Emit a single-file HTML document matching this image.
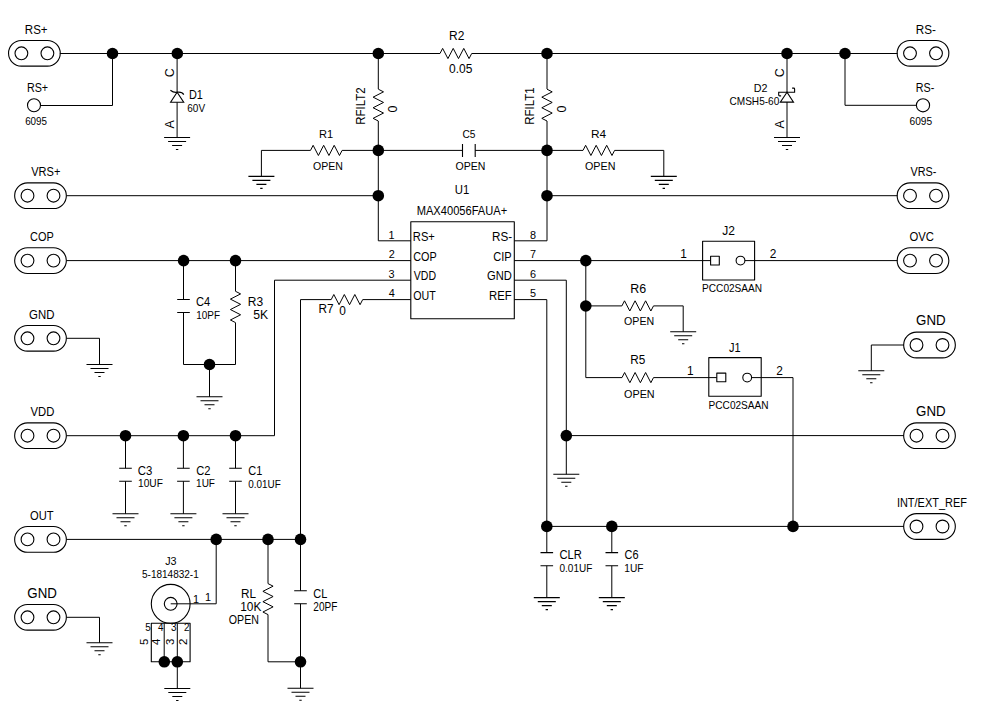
<!DOCTYPE html>
<html><head><meta charset="utf-8"><style>
html,body{margin:0;padding:0;background:#fff;overflow:hidden}
svg{display:block}
text{font-family:"Liberation Sans",sans-serif;fill:#000}
</style></head><body>
<svg width="983" height="725" viewBox="0 0 983 725">
<rect width="983" height="725" fill="#fff"/>
<g>
<path d="M21.4,40.449999999999996 H47.4 A12.85,12.85 0 0 1 47.4,66.14999999999999 H21.4 A12.85,12.85 0 0 1 21.4,40.449999999999996 Z" fill="none" stroke="#000" stroke-width="1.1"/>
<circle cx="21.4" cy="53.3" r="6.4" fill="none" stroke="#000" stroke-width="1.1"/>
<circle cx="47.4" cy="53.3" r="6.4" fill="none" stroke="#000" stroke-width="1.1"/>
<path d="M59.85,53.50 L440.00,53.50" fill="none" stroke="#000" stroke-width="1.0"/>
<circle cx="112.5" cy="53.5" r="5.8" fill="#000"/>
<path d="M112.50,53.50 L112.50,105.50 L40.60,105.50" fill="none" stroke="#000" stroke-width="1.0"/>
<circle cx="34" cy="105.3" r="6.5" fill="none" stroke="#000" stroke-width="1.1"/>
<circle cx="177.3" cy="53.5" r="5.8" fill="#000"/>
<path d="M177.10,53.50 L177.10,137.50" fill="none" stroke="#000" stroke-width="1.0"/>
<path d="M177.1,92.3 L170.6,102.2 H183.7 Z" fill="#fff" stroke="#000" stroke-width="1.1"/>
<path d="M170.4,90.3 Q173.5,92.8 177.1,92.3 Q182,91.6 183.8,94.6" fill="none" stroke="#000" stroke-width="1.1"/>
<path d="M164.1,137.5 H190.1 M168.1,141.5 H186.1 M172.1,145.5 H182.1 M175.9,149.5 H178.29999999999998" stroke="#000" stroke-width="1.1" fill="none"/>
<circle cx="378.3" cy="53.5" r="5.8" fill="#000"/>
<path d="M378.30,53.50 L378.30,89.00" fill="none" stroke="#000" stroke-width="1.0"/>
<path d="M378.30,89.20 L383.50,91.85 L373.10,97.15 L383.50,102.45 L373.10,107.75 L383.50,113.05 L373.10,118.35 L378.30,121.00" fill="none" stroke="#000" stroke-width="1.0"/>
<path d="M378.30,121.00 L378.30,240.80 L410.80,240.80" fill="none" stroke="#000" stroke-width="1.0"/>
<circle cx="378.3" cy="150.4" r="5.8" fill="#000"/>
<circle cx="378.3" cy="195.7" r="5.8" fill="#000"/>
<path d="M440.00,53.50 L442.64,48.40 L447.93,58.60 L453.21,48.40 L458.49,58.60 L463.77,48.40 L469.06,58.60 L471.70,53.50" fill="none" stroke="#000" stroke-width="1.0"/>
<path d="M471.70,53.50 L897.50,53.50" fill="none" stroke="#000" stroke-width="1.0"/>
<circle cx="547" cy="53.5" r="5.8" fill="#000"/>
<path d="M547.00,53.50 L547.00,89.00" fill="none" stroke="#000" stroke-width="1.0"/>
<path d="M547.00,89.20 L552.20,91.85 L541.80,97.15 L552.20,102.45 L541.80,107.75 L552.20,113.05 L541.80,118.35 L547.00,121.00" fill="none" stroke="#000" stroke-width="1.0"/>
<path d="M547.00,121.00 L547.00,240.80 L514.30,240.80" fill="none" stroke="#000" stroke-width="1.0"/>
<circle cx="547" cy="150.4" r="5.8" fill="#000"/>
<circle cx="547" cy="195.7" r="5.8" fill="#000"/>
<circle cx="787" cy="53.5" r="5.8" fill="#000"/>
<path d="M787.00,53.50 L787.00,137.50" fill="none" stroke="#000" stroke-width="1.0"/>
<path d="M787,92.2 L780.3,102.1 H793.5 Z" fill="#fff" stroke="#000" stroke-width="1.1"/>
<path d="M781.1,95.9 H779.6 Q778.7,95.9 778.7,95 V92.2 H794.6 V89 Q794.6,88.1 793.7,88.1 H792.1" fill="none" stroke="#000" stroke-width="1.1"/>
<path d="M774,137.5 H800 M778,141.5 H796 M782,145.5 H792 M785.8,149.5 H788.2" stroke="#000" stroke-width="1.1" fill="none"/>
<circle cx="845" cy="53.5" r="5.8" fill="#000"/>
<path d="M845.00,53.50 L845.00,105.30 L916.20,105.30" fill="none" stroke="#000" stroke-width="1.0"/>
<circle cx="923" cy="105.3" r="6.6" fill="none" stroke="#000" stroke-width="1.1"/>
<path d="M910,40.449999999999996 H936 A12.85,12.85 0 0 1 936,66.14999999999999 H910 A12.85,12.85 0 0 1 910,40.449999999999996 Z" fill="none" stroke="#000" stroke-width="1.1"/>
<circle cx="910" cy="53.3" r="6.4" fill="none" stroke="#000" stroke-width="1.1"/>
<circle cx="936" cy="53.3" r="6.4" fill="none" stroke="#000" stroke-width="1.1"/>
<path d="M378.30,150.40 L342.10,150.40" fill="none" stroke="#000" stroke-width="1.0"/>
<path d="M310.50,150.40 L313.13,145.30 L318.40,155.50 L323.67,145.30 L328.93,155.50 L334.20,145.30 L339.47,155.50 L342.10,150.40" fill="none" stroke="#000" stroke-width="1.0"/>
<path d="M310.50,150.40 L261.40,150.40 L261.40,176.40" fill="none" stroke="#000" stroke-width="1.0"/>
<path d="M248.39999999999998,176.4 H274.4 M252.39999999999998,180.4 H270.4 M256.4,184.4 H266.4 M260.2,188.4 H262.59999999999997" stroke="#000" stroke-width="1.1" fill="none"/>
<path d="M378.30,150.40 L462.50,150.40" fill="none" stroke="#000" stroke-width="1.0"/>
<path d="M475.20,150.40 L547.00,150.40" fill="none" stroke="#000" stroke-width="1.0"/>
<path d="M462.5,143.9 V156.9 M475.2,143.9 V156.9" stroke="#000" stroke-width="1.1" fill="none"/>
<path d="M547.00,150.40 L583.00,150.40" fill="none" stroke="#000" stroke-width="1.0"/>
<path d="M583.00,150.40 L585.63,145.30 L590.90,155.50 L596.17,145.30 L601.43,155.50 L606.70,145.30 L611.97,155.50 L614.60,150.40" fill="none" stroke="#000" stroke-width="1.0"/>
<path d="M614.60,150.40 L663.80,150.40 L663.80,176.40" fill="none" stroke="#000" stroke-width="1.0"/>
<path d="M650.8,176.4 H676.8 M654.8,180.4 H672.8 M658.8,184.4 H668.8 M662.5999999999999,188.4 H665.0" stroke="#000" stroke-width="1.1" fill="none"/>
<path d="M27.5,182.85 H53.5 A12.85,12.85 0 0 1 53.5,208.54999999999998 H27.5 A12.85,12.85 0 0 1 27.5,182.85 Z" fill="none" stroke="#000" stroke-width="1.1"/>
<circle cx="27.5" cy="195.7" r="6.4" fill="none" stroke="#000" stroke-width="1.1"/>
<circle cx="53.5" cy="195.7" r="6.4" fill="none" stroke="#000" stroke-width="1.1"/>
<path d="M66.60,195.70 L378.30,195.70" fill="none" stroke="#000" stroke-width="1.0"/>
<path d="M910,182.85 H936 A12.85,12.85 0 0 1 936,208.54999999999998 H910 A12.85,12.85 0 0 1 910,182.85 Z" fill="none" stroke="#000" stroke-width="1.1"/>
<circle cx="910" cy="195.7" r="6.4" fill="none" stroke="#000" stroke-width="1.1"/>
<circle cx="936" cy="195.7" r="6.4" fill="none" stroke="#000" stroke-width="1.1"/>
<path d="M547.00,195.70 L897.50,195.70" fill="none" stroke="#000" stroke-width="1.0"/>
<rect x="410.8" y="221.8" width="103.49999999999994" height="97.0" fill="none" stroke="#000" stroke-width="1.1" stroke-linejoin="round"/>
<path d="M27.5,247.75000000000003 H53.5 A12.85,12.85 0 0 1 53.5,273.45000000000005 H27.5 A12.85,12.85 0 0 1 27.5,247.75000000000003 Z" fill="none" stroke="#000" stroke-width="1.1"/>
<circle cx="27.5" cy="260.6" r="6.4" fill="none" stroke="#000" stroke-width="1.1"/>
<circle cx="53.5" cy="260.6" r="6.4" fill="none" stroke="#000" stroke-width="1.1"/>
<path d="M66.60,260.60 L410.80,260.60" fill="none" stroke="#000" stroke-width="1.0"/>
<circle cx="183.6" cy="260.6" r="5.8" fill="#000"/>
<circle cx="235.5" cy="260.6" r="5.8" fill="#000"/>
<path d="M183.50,260.60 L183.50,299.50" fill="none" stroke="#000" stroke-width="1.0"/>
<path d="M177.2,299.5 H189.8 M177.2,312.5 H189.8" stroke="#000" stroke-width="1.1" fill="none"/>
<path d="M183.50,312.50 L183.50,364.50 L235.50,364.50 L235.50,322.70" fill="none" stroke="#000" stroke-width="1.0"/>
<path d="M235.50,260.60 L235.50,291.30" fill="none" stroke="#000" stroke-width="1.0"/>
<path d="M235.50,291.30 L240.60,293.91 L230.40,299.12 L240.60,304.34 L230.40,309.56 L240.60,314.78 L230.40,319.99 L235.50,322.60" fill="none" stroke="#000" stroke-width="1.0"/>
<circle cx="209.5" cy="364.5" r="5.8" fill="#000"/>
<path d="M209.50,364.50 L209.50,396.80" fill="none" stroke="#000" stroke-width="1.0"/>
<path d="M196.5,396.8 H222.5 M200.5,400.8 H218.5 M204.5,404.8 H214.5 M208.3,408.8 H210.7" stroke="#000" stroke-width="1.1" fill="none"/>
<path d="M27.5,325.45 H53.5 A12.85,12.85 0 0 1 53.5,351.15000000000003 H27.5 A12.85,12.85 0 0 1 27.5,325.45 Z" fill="none" stroke="#000" stroke-width="1.1"/>
<circle cx="27.5" cy="338.3" r="6.4" fill="none" stroke="#000" stroke-width="1.1"/>
<circle cx="53.5" cy="338.3" r="6.4" fill="none" stroke="#000" stroke-width="1.1"/>
<path d="M66.60,338.30 L99.50,338.30 L99.50,364.50" fill="none" stroke="#000" stroke-width="1.0"/>
<path d="M86.5,364.5 H112.5 M90.5,368.5 H108.5 M94.5,372.5 H104.5 M98.3,376.5 H100.7" stroke="#000" stroke-width="1.1" fill="none"/>
<path d="M27.5,422.84999999999997 H53.5 A12.85,12.85 0 0 1 53.5,448.55 H27.5 A12.85,12.85 0 0 1 27.5,422.84999999999997 Z" fill="none" stroke="#000" stroke-width="1.1"/>
<circle cx="27.5" cy="435.7" r="6.4" fill="none" stroke="#000" stroke-width="1.1"/>
<circle cx="53.5" cy="435.7" r="6.4" fill="none" stroke="#000" stroke-width="1.1"/>
<path d="M66.60,435.70 L274.50,435.70 L274.50,280.20 L410.80,280.20" fill="none" stroke="#000" stroke-width="1.0"/>
<circle cx="125.5" cy="435.7" r="5.8" fill="#000"/>
<path d="M125.50,435.70 L125.50,468.20" fill="none" stroke="#000" stroke-width="1.0"/>
<path d="M119.2,468.2 H131.8 M119.2,481.3 H131.8" stroke="#000" stroke-width="1.1" fill="none"/>
<path d="M125.50,481.30 L125.50,513.80" fill="none" stroke="#000" stroke-width="1.0"/>
<path d="M112.5,513.8 H138.5 M116.5,517.8 H134.5 M120.5,521.8 H130.5 M124.3,525.8 H126.7" stroke="#000" stroke-width="1.1" fill="none"/>
<circle cx="183.4" cy="435.7" r="5.8" fill="#000"/>
<path d="M183.40,435.70 L183.40,468.20" fill="none" stroke="#000" stroke-width="1.0"/>
<path d="M177.1,468.2 H189.70000000000002 M177.1,481.3 H189.70000000000002" stroke="#000" stroke-width="1.1" fill="none"/>
<path d="M183.40,481.30 L183.40,513.80" fill="none" stroke="#000" stroke-width="1.0"/>
<path d="M170.4,513.8 H196.4 M174.4,517.8 H192.4 M178.4,521.8 H188.4 M182.20000000000002,525.8 H184.6" stroke="#000" stroke-width="1.1" fill="none"/>
<circle cx="235.5" cy="435.7" r="5.8" fill="#000"/>
<path d="M235.50,435.70 L235.50,468.20" fill="none" stroke="#000" stroke-width="1.0"/>
<path d="M229.2,468.2 H241.8 M229.2,481.3 H241.8" stroke="#000" stroke-width="1.1" fill="none"/>
<path d="M235.50,481.30 L235.50,513.80" fill="none" stroke="#000" stroke-width="1.0"/>
<path d="M222.5,513.8 H248.5 M226.5,517.8 H244.5 M230.5,521.8 H240.5 M234.3,525.8 H236.7" stroke="#000" stroke-width="1.1" fill="none"/>
<path d="M27.5,526.55 H53.5 A12.85,12.85 0 0 1 53.5,552.25 H27.5 A12.85,12.85 0 0 1 27.5,526.55 Z" fill="none" stroke="#000" stroke-width="1.1"/>
<circle cx="27.5" cy="539.4" r="6.4" fill="none" stroke="#000" stroke-width="1.1"/>
<circle cx="53.5" cy="539.4" r="6.4" fill="none" stroke="#000" stroke-width="1.1"/>
<path d="M66.60,539.40 L300.50,539.40" fill="none" stroke="#000" stroke-width="1.0"/>
<circle cx="216.2" cy="539.4" r="5.8" fill="#000"/>
<circle cx="268" cy="539.4" r="5.8" fill="#000"/>
<circle cx="300.5" cy="539.4" r="5.8" fill="#000"/>
<path d="M300.50,539.40 L300.50,299.60 L331.20,299.60" fill="none" stroke="#000" stroke-width="1.0"/>
<path d="M331.20,299.60 L333.82,294.50 L339.07,304.70 L344.32,294.50 L349.57,304.70 L354.82,294.50 L360.07,304.70 L362.70,299.60" fill="none" stroke="#000" stroke-width="1.0"/>
<path d="M362.70,299.60 L410.80,299.60" fill="none" stroke="#000" stroke-width="1.0"/>
<path d="M216.20,539.40 L216.20,603.80 L170.70,603.80" fill="none" stroke="#000" stroke-width="1.0"/>
<circle cx="170.7" cy="603.8" r="19.4" fill="none" stroke="#000" stroke-width="1.1"/>
<circle cx="170.7" cy="603.8" r="6.4" fill="none" stroke="#000" stroke-width="1.1"/>
<path d="M268.00,539.40 L268.00,583.60" fill="none" stroke="#000" stroke-width="1.0"/>
<path d="M268.00,583.60 L273.10,586.18 L262.90,591.35 L273.10,596.52 L262.90,601.68 L273.10,606.85 L262.90,612.02 L268.00,614.60" fill="none" stroke="#000" stroke-width="1.0"/>
<path d="M268.00,614.60 L268.00,661.80 L300.50,661.80" fill="none" stroke="#000" stroke-width="1.0"/>
<path d="M300.50,539.40 L300.50,590.80" fill="none" stroke="#000" stroke-width="1.0"/>
<path d="M294.2,590.8 H306.8 M294.2,603.8 H306.8" stroke="#000" stroke-width="1.1" fill="none"/>
<path d="M300.50,603.80 L300.50,688.30" fill="none" stroke="#000" stroke-width="1.0"/>
<circle cx="300.5" cy="661.8" r="5.8" fill="#000"/>
<path d="M287.5,688.3 H313.5 M291.5,692.3 H309.5 M295.5,696.3 H305.5 M299.3,700.3 H301.7" stroke="#000" stroke-width="1.1" fill="none"/>
<rect x="151.3" y="623.3" width="38.79999999999998" height="38.5" fill="none" stroke="#000" stroke-width="1.1" stroke-linejoin="round"/>
<path d="M164.20,623.30 L164.20,661.80" fill="none" stroke="#000" stroke-width="1.0"/>
<path d="M177.30,623.30 L177.30,661.80" fill="none" stroke="#000" stroke-width="1.0"/>
<circle cx="164.3" cy="661.8" r="5.8" fill="#000"/>
<circle cx="177.3" cy="661.8" r="5.8" fill="#000"/>
<path d="M177.30,661.80 L177.30,688.50" fill="none" stroke="#000" stroke-width="1.0"/>
<path d="M164.3,688.5 H190.3 M168.3,692.5 H186.3 M172.3,696.5 H182.3 M176.10000000000002,700.5 H178.5" stroke="#000" stroke-width="1.1" fill="none"/>
<path d="M27.5,604.4499999999999 H53.5 A12.85,12.85 0 0 1 53.5,630.15 H27.5 A12.85,12.85 0 0 1 27.5,604.4499999999999 Z" fill="none" stroke="#000" stroke-width="1.1"/>
<circle cx="27.5" cy="617.3" r="6.4" fill="none" stroke="#000" stroke-width="1.1"/>
<circle cx="53.5" cy="617.3" r="6.4" fill="none" stroke="#000" stroke-width="1.1"/>
<path d="M66.60,617.30 L99.50,617.30 L99.50,642.80" fill="none" stroke="#000" stroke-width="1.0"/>
<path d="M86.5,642.8 H112.5 M90.5,646.8 H108.5 M94.5,650.8 H104.5 M98.3,654.8 H100.7" stroke="#000" stroke-width="1.1" fill="none"/>
<path d="M514.30,260.60 L710.60,260.60" fill="none" stroke="#000" stroke-width="1.0"/>
<circle cx="585.8" cy="260.6" r="5.8" fill="#000"/>
<path d="M585.80,260.60 L585.80,377.60 L622.00,377.60" fill="none" stroke="#000" stroke-width="1.0"/>
<circle cx="585.8" cy="306" r="5.8" fill="#000"/>
<path d="M585.80,305.90 L621.90,305.90" fill="none" stroke="#000" stroke-width="1.0"/>
<path d="M621.90,305.90 L624.53,300.80 L629.80,311.00 L635.07,300.80 L640.33,311.00 L645.60,300.80 L650.87,311.00 L653.50,305.90" fill="none" stroke="#000" stroke-width="1.0"/>
<path d="M653.50,305.90 L683.20,305.90 L683.20,331.80" fill="none" stroke="#000" stroke-width="1.0"/>
<path d="M670.2,331.8 H696.2 M674.2,335.8 H692.2 M678.2,339.8 H688.2 M682.0,343.8 H684.4000000000001" stroke="#000" stroke-width="1.1" fill="none"/>
<path d="M622.00,377.60 L624.62,372.50 L629.88,382.70 L635.12,372.50 L640.38,382.70 L645.62,372.50 L650.88,382.70 L653.50,377.60" fill="none" stroke="#000" stroke-width="1.0"/>
<path d="M653.50,377.60 L716.80,377.60" fill="none" stroke="#000" stroke-width="1.0"/>
<rect x="702.6" y="241.3" width="52.0" height="38.69999999999999" fill="none" stroke="#000" stroke-width="1.1" stroke-linejoin="round"/>
<rect x="710.6" y="256.3" width="8.699999999999932" height="8.699999999999989" fill="none" stroke="#000" stroke-width="1.1" stroke-linejoin="round"/>
<circle cx="740.5" cy="260.6" r="4.4" fill="none" stroke="#000" stroke-width="1.1"/>
<path d="M744.90,260.60 L897.50,260.60" fill="none" stroke="#000" stroke-width="1.0"/>
<path d="M910,247.75000000000003 H936 A12.85,12.85 0 0 1 936,273.45000000000005 H910 A12.85,12.85 0 0 1 910,247.75000000000003 Z" fill="none" stroke="#000" stroke-width="1.1"/>
<circle cx="910" cy="260.6" r="6.4" fill="none" stroke="#000" stroke-width="1.1"/>
<circle cx="936" cy="260.6" r="6.4" fill="none" stroke="#000" stroke-width="1.1"/>
<rect x="708.8" y="357.6" width="52.40000000000009" height="38.69999999999999" fill="none" stroke="#000" stroke-width="1.1" stroke-linejoin="round"/>
<rect x="716.8" y="373.1" width="9.0" height="8.699999999999989" fill="none" stroke="#000" stroke-width="1.1" stroke-linejoin="round"/>
<circle cx="747.2" cy="377.6" r="4.4" fill="none" stroke="#000" stroke-width="1.1"/>
<path d="M751.60,377.60 L793.00,377.60 L793.00,526.40" fill="none" stroke="#000" stroke-width="1.0"/>
<path d="M514.30,280.20 L566.30,280.20 L566.30,474.30" fill="none" stroke="#000" stroke-width="1.0"/>
<path d="M553.3,474.3 H579.3 M557.3,478.3 H575.3 M561.3,482.3 H571.3 M565.0999999999999,486.3 H567.5" stroke="#000" stroke-width="1.1" fill="none"/>
<circle cx="566.3" cy="435.6" r="5.8" fill="#000"/>
<path d="M566.30,435.60 L903.90,435.60" fill="none" stroke="#000" stroke-width="1.0"/>
<path d="M916.5,422.84999999999997 H942.5 A12.85,12.85 0 0 1 942.5,448.55 H916.5 A12.85,12.85 0 0 1 916.5,422.84999999999997 Z" fill="none" stroke="#000" stroke-width="1.1"/>
<circle cx="916.5" cy="435.7" r="6.4" fill="none" stroke="#000" stroke-width="1.1"/>
<circle cx="942.5" cy="435.7" r="6.4" fill="none" stroke="#000" stroke-width="1.1"/>
<path d="M916.5,332.15 H942.5 A12.85,12.85 0 0 1 942.5,357.85 H916.5 A12.85,12.85 0 0 1 916.5,332.15 Z" fill="none" stroke="#000" stroke-width="1.1"/>
<circle cx="916.5" cy="345" r="6.4" fill="none" stroke="#000" stroke-width="1.1"/>
<circle cx="942.5" cy="345" r="6.4" fill="none" stroke="#000" stroke-width="1.1"/>
<path d="M903.90,345.00 L871.30,345.00 L871.30,370.80" fill="none" stroke="#000" stroke-width="1.0"/>
<path d="M858.3,370.8 H884.3 M862.3,374.8 H880.3 M866.3,378.8 H876.3 M870.0999999999999,382.8 H872.5" stroke="#000" stroke-width="1.1" fill="none"/>
<path d="M514.30,299.60 L546.80,299.60 L546.80,526.40 L903.90,526.40" fill="none" stroke="#000" stroke-width="1.0"/>
<circle cx="546.8" cy="526.4" r="5.8" fill="#000"/>
<circle cx="611.8" cy="526.4" r="5.8" fill="#000"/>
<circle cx="793" cy="526.4" r="5.8" fill="#000"/>
<path d="M916.5,513.65 H942.5 A12.85,12.85 0 0 1 942.5,539.35 H916.5 A12.85,12.85 0 0 1 916.5,513.65 Z" fill="none" stroke="#000" stroke-width="1.1"/>
<circle cx="916.5" cy="526.5" r="6.4" fill="none" stroke="#000" stroke-width="1.1"/>
<circle cx="942.5" cy="526.5" r="6.4" fill="none" stroke="#000" stroke-width="1.1"/>
<path d="M540.5,552.6 H553.0999999999999 M540.5,565.8 H553.0999999999999" stroke="#000" stroke-width="1.1" fill="none"/>
<path d="M546.80,552.60 L546.80,526.40" fill="none" stroke="#000" stroke-width="1.0"/>
<path d="M546.80,565.80 L546.80,597.60" fill="none" stroke="#000" stroke-width="1.0"/>
<path d="M533.8,597.6 H559.8 M537.8,601.6 H555.8 M541.8,605.6 H551.8 M545.5999999999999,609.6 H548.0" stroke="#000" stroke-width="1.1" fill="none"/>
<path d="M605.5,552.6 H618.0999999999999 M605.5,565.8 H618.0999999999999" stroke="#000" stroke-width="1.1" fill="none"/>
<path d="M611.80,552.60 L611.80,526.40" fill="none" stroke="#000" stroke-width="1.0"/>
<path d="M611.80,565.80 L611.80,597.60" fill="none" stroke="#000" stroke-width="1.0"/>
<path d="M598.8,597.6 H624.8 M602.8,601.6 H620.8 M606.8,605.6 H616.8 M610.5999999999999,609.6 H613.0" stroke="#000" stroke-width="1.1" fill="none"/>
</g>
<g>
<text x="24.84" y="33.84" font-size="12.48" textLength="22.78" lengthAdjust="spacingAndGlyphs">RS+</text>
<text x="26.91" y="92.14" font-size="12.48" textLength="21.19" lengthAdjust="spacingAndGlyphs">RS+</text>
<text x="25.15" y="124.75" font-size="11.44" textLength="21.88" lengthAdjust="spacingAndGlyphs">6095</text>
<text x="188.89" y="98.79" font-size="12.48" textLength="13.95" lengthAdjust="spacingAndGlyphs">D1</text>
<text x="187.24" y="112.10" font-size="11.44" textLength="17.83" lengthAdjust="spacingAndGlyphs">60V</text>
<text transform="translate(173.91,77.27) rotate(-90)" x="0" y="0" font-size="12.48" textLength="9.02" lengthAdjust="spacingAndGlyphs">C</text>
<text transform="translate(174.24,128.41) rotate(-90)" x="0" y="0" font-size="12.48" textLength="8.34" lengthAdjust="spacingAndGlyphs">A</text>
<text x="318.99" y="137.95" font-size="11.44" textLength="14.18" lengthAdjust="spacingAndGlyphs">R1</text>
<text x="313.12" y="169.83" font-size="11.44" textLength="29.88" lengthAdjust="spacingAndGlyphs">OPEN</text>
<text x="449.00" y="39.91" font-size="12.48" textLength="15.34" lengthAdjust="spacingAndGlyphs">R2</text>
<text x="449.00" y="72.78" font-size="12.48" textLength="23.36" lengthAdjust="spacingAndGlyphs">0.05</text>
<text transform="translate(364.89,124.75) rotate(-90)" x="0" y="0" font-size="12.48" textLength="37.25" lengthAdjust="spacingAndGlyphs">RFILT2</text>
<text transform="translate(396.86,112.41) rotate(-90)" x="0" y="0" font-size="12.48" textLength="6.96" lengthAdjust="spacingAndGlyphs">0</text>
<text x="462.54" y="137.90" font-size="11.44" textLength="12.98" lengthAdjust="spacingAndGlyphs">C5</text>
<text x="455.52" y="170.03" font-size="11.44" textLength="29.88" lengthAdjust="spacingAndGlyphs">OPEN</text>
<text x="454.80" y="194.03" font-size="12.48" textLength="14.51" lengthAdjust="spacingAndGlyphs">U1</text>
<text transform="translate(533.59,124.75) rotate(-90)" x="0" y="0" font-size="12.48" textLength="37.25" lengthAdjust="spacingAndGlyphs">RFILT1</text>
<text transform="translate(565.56,112.41) rotate(-90)" x="0" y="0" font-size="12.48" textLength="6.96" lengthAdjust="spacingAndGlyphs">0</text>
<text x="590.92" y="137.90" font-size="11.44" textLength="15.17" lengthAdjust="spacingAndGlyphs">R4</text>
<text x="585.01" y="170.03" font-size="11.44" textLength="30.40" lengthAdjust="spacingAndGlyphs">OPEN</text>
<text x="753.72" y="92.38" font-size="11.44" textLength="13.72" lengthAdjust="spacingAndGlyphs">D2</text>
<text x="729.54" y="104.70" font-size="11.44" textLength="49.73" lengthAdjust="spacingAndGlyphs">CMSH5-60</text>
<text transform="translate(783.81,77.27) rotate(-90)" x="0" y="0" font-size="12.48" textLength="9.02" lengthAdjust="spacingAndGlyphs">C</text>
<text transform="translate(784.14,128.41) rotate(-90)" x="0" y="0" font-size="12.48" textLength="8.34" lengthAdjust="spacingAndGlyphs">A</text>
<text x="915.78" y="34.16" font-size="12.48" textLength="20.13" lengthAdjust="spacingAndGlyphs">RS-</text>
<text x="915.85" y="92.42" font-size="12.48" textLength="18.52" lengthAdjust="spacingAndGlyphs">RS-</text>
<text x="909.54" y="125.40" font-size="11.44" textLength="22.66" lengthAdjust="spacingAndGlyphs">6095</text>
<text x="31.25" y="176.16" font-size="12.48" textLength="29.15" lengthAdjust="spacingAndGlyphs">VRS+</text>
<text x="910.50" y="176.16" font-size="12.48" textLength="25.88" lengthAdjust="spacingAndGlyphs">VRS-</text>
<text x="30.05" y="241.28" font-size="12.48" textLength="23.67" lengthAdjust="spacingAndGlyphs">COP</text>
<text x="909.53" y="241.16" font-size="12.48" textLength="24.45" lengthAdjust="spacingAndGlyphs">OVC</text>
<text x="29.02" y="318.79" font-size="12.48" textLength="25.36" lengthAdjust="spacingAndGlyphs">GND</text>
<text x="195.93" y="305.86" font-size="12.48" textLength="14.29" lengthAdjust="spacingAndGlyphs">C4</text>
<text x="196.32" y="319.03" font-size="11.44" textLength="23.77" lengthAdjust="spacingAndGlyphs">10PF</text>
<text x="247.75" y="306.17" font-size="12.48" textLength="15.34" lengthAdjust="spacingAndGlyphs">R3</text>
<text x="253.24" y="319.04" font-size="12.48" textLength="14.95" lengthAdjust="spacingAndGlyphs">5K</text>
<text x="416.67" y="214.86" font-size="12.48" textLength="90.58" lengthAdjust="spacingAndGlyphs">MAX40056FAUA+</text>
<text x="388.51" y="238.55" font-size="11.44" textLength="6.05" lengthAdjust="spacingAndGlyphs">1</text>
<text x="388.64" y="257.93" font-size="11.44" textLength="6.05" lengthAdjust="spacingAndGlyphs">2</text>
<text x="388.51" y="277.67" font-size="11.44" textLength="6.05" lengthAdjust="spacingAndGlyphs">3</text>
<text x="388.64" y="296.95" font-size="11.44" textLength="6.05" lengthAdjust="spacingAndGlyphs">4</text>
<text x="412.82" y="241.16" font-size="12.48" textLength="22.09" lengthAdjust="spacingAndGlyphs">RS+</text>
<text x="413.30" y="260.79" font-size="12.48" textLength="23.41" lengthAdjust="spacingAndGlyphs">COP</text>
<text x="413.75" y="279.92" font-size="12.48" textLength="22.27" lengthAdjust="spacingAndGlyphs">VDD</text>
<text x="413.31" y="299.79" font-size="12.48" textLength="22.50" lengthAdjust="spacingAndGlyphs">OUT</text>
<text x="492.03" y="241.16" font-size="12.48" textLength="20.13" lengthAdjust="spacingAndGlyphs">RS-</text>
<text x="493.29" y="260.66" font-size="12.48" textLength="18.44" lengthAdjust="spacingAndGlyphs">CIP</text>
<text x="487.03" y="279.79" font-size="12.48" textLength="24.84" lengthAdjust="spacingAndGlyphs">GND</text>
<text x="489.06" y="299.92" font-size="12.48" textLength="22.67" lengthAdjust="spacingAndGlyphs">REF</text>
<text x="529.91" y="238.65" font-size="11.44" textLength="6.05" lengthAdjust="spacingAndGlyphs">8</text>
<text x="530.04" y="257.90" font-size="11.44" textLength="6.05" lengthAdjust="spacingAndGlyphs">7</text>
<text x="529.91" y="278.03" font-size="11.44" textLength="6.05" lengthAdjust="spacingAndGlyphs">6</text>
<text x="529.91" y="297.15" font-size="11.44" textLength="6.05" lengthAdjust="spacingAndGlyphs">5</text>
<text x="318.52" y="313.04" font-size="12.48" textLength="15.06" lengthAdjust="spacingAndGlyphs">R7</text>
<text x="339.17" y="314.92" font-size="12.48" textLength="6.61" lengthAdjust="spacingAndGlyphs">0</text>
<text x="722.25" y="234.91" font-size="12.48" textLength="12.69" lengthAdjust="spacingAndGlyphs">J2</text>
<text x="680.29" y="258.04" font-size="12.48" textLength="6.61" lengthAdjust="spacingAndGlyphs">1</text>
<text x="769.66" y="258.04" font-size="12.48" textLength="6.61" lengthAdjust="spacingAndGlyphs">2</text>
<text x="702.08" y="292.40" font-size="11.44" textLength="60.01" lengthAdjust="spacingAndGlyphs">PCC02SAAN</text>
<text x="630.21" y="293.42" font-size="12.48" textLength="15.90" lengthAdjust="spacingAndGlyphs">R6</text>
<text x="624.02" y="325.03" font-size="11.44" textLength="30.14" lengthAdjust="spacingAndGlyphs">OPEN</text>
<text x="916.04" y="325.07" font-size="14.56" textLength="29.56" lengthAdjust="spacingAndGlyphs">GND</text>
<text x="729.02" y="351.67" font-size="12.48" textLength="11.61" lengthAdjust="spacingAndGlyphs">J1</text>
<text x="630.27" y="364.04" font-size="12.48" textLength="15.07" lengthAdjust="spacingAndGlyphs">R5</text>
<text x="687.04" y="375.29" font-size="12.48" textLength="6.61" lengthAdjust="spacingAndGlyphs">1</text>
<text x="776.16" y="374.54" font-size="12.48" textLength="6.61" lengthAdjust="spacingAndGlyphs">2</text>
<text x="624.01" y="397.53" font-size="11.44" textLength="30.66" lengthAdjust="spacingAndGlyphs">OPEN</text>
<text x="708.58" y="409.15" font-size="11.44" textLength="60.01" lengthAdjust="spacingAndGlyphs">PCC02SAAN</text>
<text x="30.50" y="416.17" font-size="12.48" textLength="23.81" lengthAdjust="spacingAndGlyphs">VDD</text>
<text x="916.04" y="416.07" font-size="14.56" textLength="29.56" lengthAdjust="spacingAndGlyphs">GND</text>
<text x="137.78" y="474.79" font-size="12.48" textLength="14.54" lengthAdjust="spacingAndGlyphs">C3</text>
<text x="138.06" y="487.15" font-size="11.44" textLength="24.82" lengthAdjust="spacingAndGlyphs">10UF</text>
<text x="196.29" y="475.41" font-size="12.48" textLength="14.27" lengthAdjust="spacingAndGlyphs">C2</text>
<text x="196.07" y="487.40" font-size="11.44" textLength="18.92" lengthAdjust="spacingAndGlyphs">1UF</text>
<text x="248.29" y="475.41" font-size="12.48" textLength="14.00" lengthAdjust="spacingAndGlyphs">C1</text>
<text x="248.30" y="487.53" font-size="11.44" textLength="32.50" lengthAdjust="spacingAndGlyphs">0.01UF</text>
<text x="896.89" y="507.00" font-size="12.48" textLength="70.01" lengthAdjust="spacingAndGlyphs">INT/EXT_REF</text>
<text x="30.04" y="520.03" font-size="12.48" textLength="23.53" lengthAdjust="spacingAndGlyphs">OUT</text>
<text x="559.53" y="559.03" font-size="12.48" textLength="22.43" lengthAdjust="spacingAndGlyphs">CLR</text>
<text x="559.55" y="572.15" font-size="11.44" textLength="32.75" lengthAdjust="spacingAndGlyphs">0.01UF</text>
<text x="624.54" y="559.03" font-size="12.48" textLength="14.00" lengthAdjust="spacingAndGlyphs">C6</text>
<text x="624.31" y="572.02" font-size="11.44" textLength="19.18" lengthAdjust="spacingAndGlyphs">1UF</text>
<text x="165.26" y="564.90" font-size="11.44" textLength="11.36" lengthAdjust="spacingAndGlyphs">J3</text>
<text x="142.02" y="577.74" font-size="10.92" textLength="56.76" lengthAdjust="spacingAndGlyphs">5-1814832-1</text>
<text x="192.96" y="602.85" font-size="11.44" textLength="6.05" lengthAdjust="spacingAndGlyphs">1</text>
<text x="204.96" y="601.30" font-size="11.44" textLength="6.05" lengthAdjust="spacingAndGlyphs">1</text>
<text x="27.29" y="598.20" font-size="14.56" textLength="29.56" lengthAdjust="spacingAndGlyphs">GND</text>
<text x="241.02" y="598.04" font-size="12.48" textLength="15.07" lengthAdjust="spacingAndGlyphs">RL</text>
<text x="240.26" y="611.16" font-size="12.48" textLength="21.10" lengthAdjust="spacingAndGlyphs">10K</text>
<text x="228.81" y="624.16" font-size="12.48" textLength="30.09" lengthAdjust="spacingAndGlyphs">OPEN</text>
<text x="313.29" y="597.91" font-size="12.48" textLength="14.02" lengthAdjust="spacingAndGlyphs">CL</text>
<text x="313.33" y="611.16" font-size="12.48" textLength="24.04" lengthAdjust="spacingAndGlyphs">20PF</text>
<text x="145.21" y="630.89" font-size="10.40" textLength="5.50" lengthAdjust="spacingAndGlyphs">5</text>
<text x="157.98" y="630.89" font-size="10.40" textLength="5.50" lengthAdjust="spacingAndGlyphs">4</text>
<text x="171.11" y="630.89" font-size="10.40" textLength="5.50" lengthAdjust="spacingAndGlyphs">3</text>
<text x="184.08" y="630.89" font-size="10.40" textLength="5.50" lengthAdjust="spacingAndGlyphs">2</text>
<text transform="translate(147.52,645.02) rotate(-90)" x="0" y="0" font-size="11.44" textLength="6.37" lengthAdjust="spacingAndGlyphs">5</text>
<text transform="translate(160.45,645.02) rotate(-90)" x="0" y="0" font-size="11.44" textLength="6.37" lengthAdjust="spacingAndGlyphs">4</text>
<text transform="translate(173.55,645.02) rotate(-90)" x="0" y="0" font-size="11.44" textLength="6.37" lengthAdjust="spacingAndGlyphs">3</text>
<text transform="translate(186.68,645.02) rotate(-90)" x="0" y="0" font-size="11.44" textLength="6.37" lengthAdjust="spacingAndGlyphs">2</text>
</g>
</svg>
</body></html>
